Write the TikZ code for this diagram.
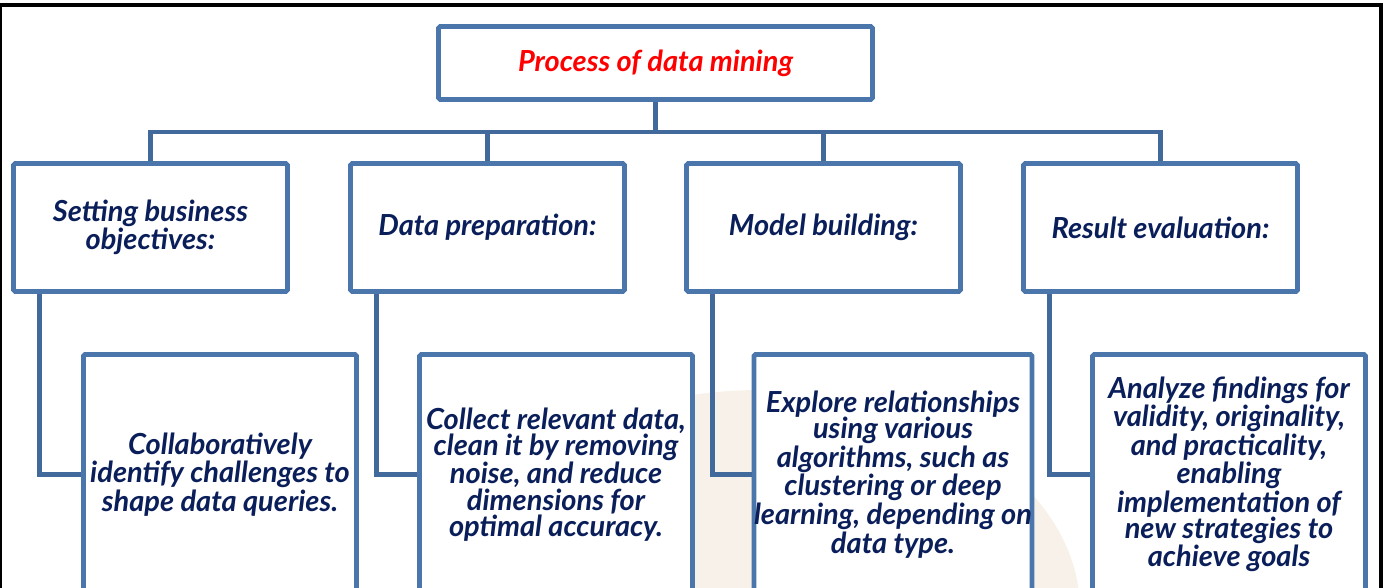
\documentclass[tikz,border=0pt]{standalone}
\usepackage{fontspec}
\setmainfont{Lato}
\definecolor{boxblue}{RGB}{74,118,172}
\definecolor{lineblue}{RGB}{66,105,155}
\definecolor{inknavy}{RGB}{10,30,90}
\definecolor{watermark}{RGB}{248,241,233}
\begin{document}
\begin{tikzpicture}[
  box/.style={draw=boxblue, line width=2.8pt, fill=white, rounded corners=1pt, inner sep=0pt, align=center, font=\fontsize{16.5}{15}\selectfont\bfseries\itshape, text=inknavy},
  stepbox/.style={box, minimum width=5.48cm, minimum height=2.56cm},
  descbox/.style={box, anchor=north, minimum width=5.46cm, minimum height=4.8cm},
  link/.style={draw=lineblue, line width=2.8pt}
]
  \useasboundingbox (0,0) rectangle (27.66,-11.74);
  \clip (0,0) rectangle (27.66,-11.74);

  \fill [watermark] (15.2,-12.2) ellipse (6.4cm and 4.4cm);
  \draw [line width=2.3pt, color=black] (0,-12) |- (27.61,-0.1) -- (27.61,-12);

  \node [box, minimum width=8.68cm, minimum height=1.46cm, text=red] (title) at (13.11,-1.26) {Process of data mining};

  \node [stepbox] (s1) at (3.01,-4.55) {Setting business\\objectives:};
  \node [stepbox] (s2) at (9.75,-4.55) {Data preparation:};
  \node [stepbox] (s3) at (16.47,-4.55) {Model building:};
  \node [stepbox] (s4) at (23.21,-4.55) {Result evaluation:};

  \node [descbox] (d1) at (4.40,-7.04) {Collaboratively\\identify challenges to\\shape data queries.};
  \node [descbox] (d2) at (11.12,-7.04) {Collect relevant data,\\clean it by removing\\noise, and reduce\\dimensions for\\optimal accuracy.};
  \node [descbox] (d3) at (17.86,-7.04) {Explore relationships\\using various\\algorithms, such as\\clustering or deep\\learning, depending on\\data type.};
  \node [descbox] (d4) at (24.58,-7.04) {Analyze findings for\\validity, originality,\\and practicality,\\enabling\\implementation of\\new strategies to\\achieve goals};

  \coordinate (bus) at (13.11,-2.64);
  \draw [link] (title.south) -- (title.south |- bus);
  \draw [link] (s1.north) |- (bus) -| (s4.north);
  \draw [link] (s2.north) -- (s2.north |- bus);
  \draw [link] (s3.north) -- (s3.north |- bus);

  \draw [link] ([xshift=0.56cm]s1.south west) |- (d1.west);
  \draw [link] ([xshift=0.56cm]s2.south west) |- (d2.west);
  \draw [link] ([xshift=0.56cm]s3.south west) |- (d3.west);
  \draw [link] ([xshift=0.56cm]s4.south west) |- (d4.west);

\end{tikzpicture}
\end{document}
